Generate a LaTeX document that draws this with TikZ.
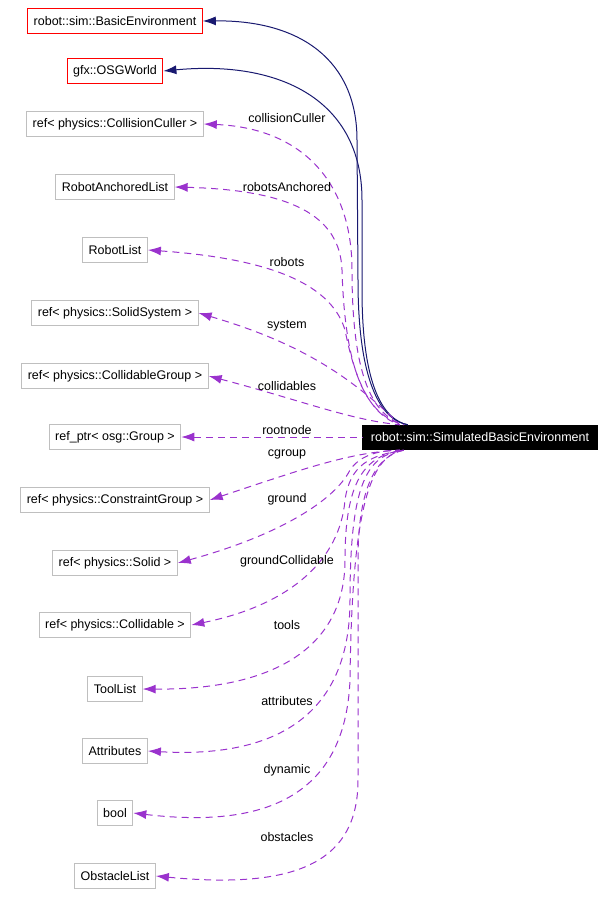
\documentclass[tikz,border=0pt]{standalone}
\usepackage{fontspec}
\setmainfont{Liberation Sans}
\usetikzlibrary{arrows.meta}
\definecolor{usecol}{HTML}{9A32CD}
\definecolor{inhcol}{HTML}{191970}
\definecolor{boxgray}{HTML}{BFBFBF}
\tikzset{
  cls/.style={draw=boxgray, line width=1pt, inner xsep=6pt, minimum height=25pt, font=\fontsize{12.5}{14}\selectfont},
  base/.style={cls, draw=red},
  lbl/.style={font=\fontsize{12.5}{14}\selectfont, inner sep=1pt},
  uses/.style={usecol, line width=1pt, dash pattern=on 7pt off 5pt, {Latex[length=13pt,width=9pt]}-},
  inherits/.style={inhcol, line width=1pt, {Latex[length=13pt,width=9pt]}-}
}
\begin{document}
\begin{tikzpicture}[x=1pt, y=-1pt]
  \useasboundingbox (0,0) rectangle (616,906);

  % Classes
  \node[base] (be)   at (115,21)  {robot::sim::BasicEnvironment};
  \node[base] (osgw) at (115,71)  {gfx::OSGWorld};
  \node[cls] (cc)    at (115,124) {ref< physics::CollisionCuller >};
  \node[cls] (ral)   at (115,187) {RobotAnchoredList};
  \node[cls] (rl)    at (115,250) {RobotList};
  \node[cls] (ss)    at (115,313) {ref< physics::SolidSystem >};
  \node[cls] (colg)  at (115,376) {ref< physics::CollidableGroup >};
  \node[cls] (grp)   at (115,437) {ref\_ptr< osg::Group >};
  \node[cls] (cong)  at (115,500) {ref< physics::ConstraintGroup >};
  \node[cls] (sol)   at (115,563) {ref< physics::Solid >};
  \node[cls] (coll)  at (115,625) {ref< physics::Collidable >};
  \node[cls] (tl)    at (115,689) {ToolList};
  \node[cls] (attr)  at (115,751) {Attributes};
  \node[cls] (bl)    at (115,813) {bool};
  \node[cls] (obl)   at (115,876) {ObstacleList};

  \node[fill=black, text=white, minimum width=236pt, minimum height=25pt, inner sep=0pt,
        font=\fontsize{12.5}{14}\selectfont] (main) at (480,437.5) {robot::sim::SimulatedBasicEnvironment};

  % Ends on the main box
  \coordinate (mt1) at ([xshift=46pt]main.north west);
  \coordinate (mt2) at ([xshift=42pt]main.north west);
  \coordinate (mt3) at ([xshift=38pt]main.north west);
  \coordinate (mb1) at ([xshift=38pt]main.south west);
  \coordinate (mb2) at ([xshift=42pt]main.south west);

  % Base classes
  \draw[inherits] (be.east) .. controls (300,20) and (357,60) .. (357,140)
    -- (358,280) .. controls (358,380) and (380,420) .. (mt1);
  \draw[inherits] (osgw.east) .. controls (280,60) and (362,100) .. (362,200)
    -- (362,290) .. controls (362,390) and (385,420) .. (mt1);

  % Members above
  \draw[uses] (cc.east) .. controls (300,128) and (352,180) .. (352,270)
    .. controls (352,370) and (370,415) .. (mt2);
  \draw[uses] (ral.east) .. controls (290,190) and (340,215) .. (342,270)
    .. controls (345,370) and (365,415) .. (mt2);
  \draw[uses] (rl.east) .. controls (260,258) and (330,280) .. (345,330)
    .. controls (355,380) and (370,415) .. (mt3);
  \draw[uses] (ss.east) .. controls (290,340) and (345,370) .. (mt3);
  \draw[uses] (colg.east) .. controls (300,400) and (350,420) .. (mt3);
  \draw[uses] (grp.east) -- (main.west |- grp.east);

  % Members below
  \draw[uses] (cong.east) .. controls (300,470) and (350,452) .. (mb1);
  \draw[uses] (sol.east) .. controls (280,535) and (335,500) .. (350,470)
    .. controls (360,455) and (380,450) .. (mb1);
  \draw[uses] (coll.east) .. controls (290,605) and (340,560) .. (345,500)
    .. controls (350,465) and (370,455) .. (mb2);
  \draw[uses] (tl.east) .. controls (270,690) and (345,650) .. (345,560)
    .. controls (345,480) and (365,455) .. (mb2);
  \draw[uses] (attr.east) .. controls (270,758) and (350,720) .. (350,600)
    .. controls (350,480) and (368,455) .. (mb2);
  \draw[uses] (bl.east) .. controls (260,828) and (345,800) .. (350,680)
    .. controls (352,500) and (372,455) .. (mb2);
  \draw[uses] (obl.east) .. controls (300,890) and (358,860) .. (358,780)
    -- (358,560) .. controls (358,480) and (380,455) .. (mb2);

  % Member names
  \node[lbl] (lcc)   at (287,118) {collisionCuller};
  \node[lbl] (lral)  at (287,187) {robotsAnchored};
  \node[lbl] (lrl)   at (287,262) {robots};
  \node[lbl] (lss)   at (287,326) {system};
  \node[lbl] (lcolg) at (287,386) {collidables};
  \node[lbl] (lgrp)  at (287,430) {rootnode};
  \node[lbl] (lcong) at (287,454) {cgroup};
  \node[lbl] (lsol)  at (287,499) {ground};
  \node[lbl] (lcoll) at (287,561) {groundCollidable};
  \node[lbl] (ltl)   at (287,625) {tools};
  \node[lbl] (lattr) at (287,701) {attributes};
  \node[lbl] (lbl)   at (287,770) {dynamic};
  \node[lbl] (lobl)  at (287,837) {obstacles};
\end{tikzpicture}
\end{document}
